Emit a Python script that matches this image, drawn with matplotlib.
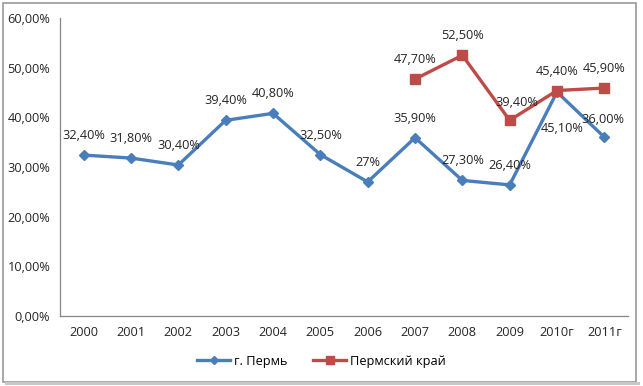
import numpy as np
import matplotlib
matplotlib.use("Agg")
import matplotlib.pyplot as plt
from matplotlib.patches import Rectangle

plt.rcParams["font.family"] = ["Open Sans", "DejaVu Sans"]

years = ["2000", "2001", "2002", "2003", "2004", "2005", "2006", "2007",
         "2008", "2009", "2010г", "2011г"]
perm_city = [32.4, 31.8, 30.4, 39.4, 40.8, 32.5, 27.0, 35.9, 27.3, 26.4, 45.1, 36.0]
perm_city_labels = ["32,40%", "31,80%", "30,40%", "39,40%", "40,80%", "32,50%",
                    "27%", "35,90%", "27,30%", "26,40%", "45,10%", "36,00%"]
perm_krai = [np.nan] * 7 + [47.7, 52.5, 39.4, 45.4, 45.9]
perm_krai_labels = [""] * 7 + ["47,70%", "52,50%", "39,40%", "45,40%", "45,90%"]
yticks = [0, 10, 20, 30, 40, 50, 60]

BLUE = "#4A7EBB"
RED = "#BE4B48"
AXIS = "#868686"
FS = 9.2

W, H = 643, 386
fig = plt.figure(figsize=(W / 100, H / 100), dpi=100)
ax = fig.add_axes([60 / W, 1 - 316 / H, (628 - 60) / W, (316 - 18) / H])

x = np.arange(len(years))
ax.plot(x, perm_city, color=BLUE, lw=2.4, marker="D", ms=5.5,
        mec=BLUE, mfc=BLUE, label="г. Пермь", zorder=3)
ax.plot(x, perm_krai, color=RED, lw=2.4, marker="s", ms=7,
        mec=RED, mfc=RED, label="Пермский край", zorder=3)

# data labels: (dx, dy) offsets in points
city_offsets = {10: (4, -26), 11: (-1, 13)}
for i, (v, t) in enumerate(zip(perm_city, perm_city_labels)):
    dx, dy = city_offsets.get(i, (0, 14))
    ax.annotate(t, (x[i], v), textcoords="offset points", xytext=(dx, dy),
                ha="center", va="center", fontsize=FS, color="#262626")
krai_offsets = {9: (5, 13)}
for i, (v, t) in enumerate(zip(perm_krai, perm_krai_labels)):
    if not t:
        continue
    dx, dy = krai_offsets.get(i, (0, 14))
    ax.annotate(t, (x[i], v), textcoords="offset points", xytext=(dx, dy),
                ha="center", va="center", fontsize=FS, color="#262626")

ax.set_xlim(-0.5, len(years) - 0.5)
ax.set_ylim(0, 60)
ax.set_xticks(x)
ax.set_xticklabels(years)
ax.set_yticks(yticks)
ax.set_yticklabels([f"{v},00%" for v in yticks])
ax.tick_params(axis="both", length=0, labelsize=FS, colors="#262626")
ax.tick_params(axis="y", pad=7)
ax.tick_params(axis="x", pad=7)
for s in ["top", "right"]:
    ax.spines[s].set_visible(False)
for s in ["left", "bottom"]:
    ax.spines[s].set_color(AXIS)
    ax.spines[s].set_linewidth(0.9)

fig.legend(loc="center", bbox_to_anchor=(0.5, 1 - 361 / H), ncol=2,
           frameon=False, fontsize=FS, handlelength=2.6, columnspacing=2.0,
           handletextpad=0.3, markerscale=0.8)

# chart frame with shadow
fig.patches.append(Rectangle((3 / W, 4 / H), (W - 10) / W, (H - 7) / H,
                             transform=fig.transFigure, fill=False,
                             ec="#9A9A9A", lw=1.2))
fig.patches.append(Rectangle((5 / W, 1 / H), (W - 8) / W, 3 / H,
                             transform=fig.transFigure, fc="#C8C8C8", ec="none"))

fig.savefig("out.png", dpi=100)
